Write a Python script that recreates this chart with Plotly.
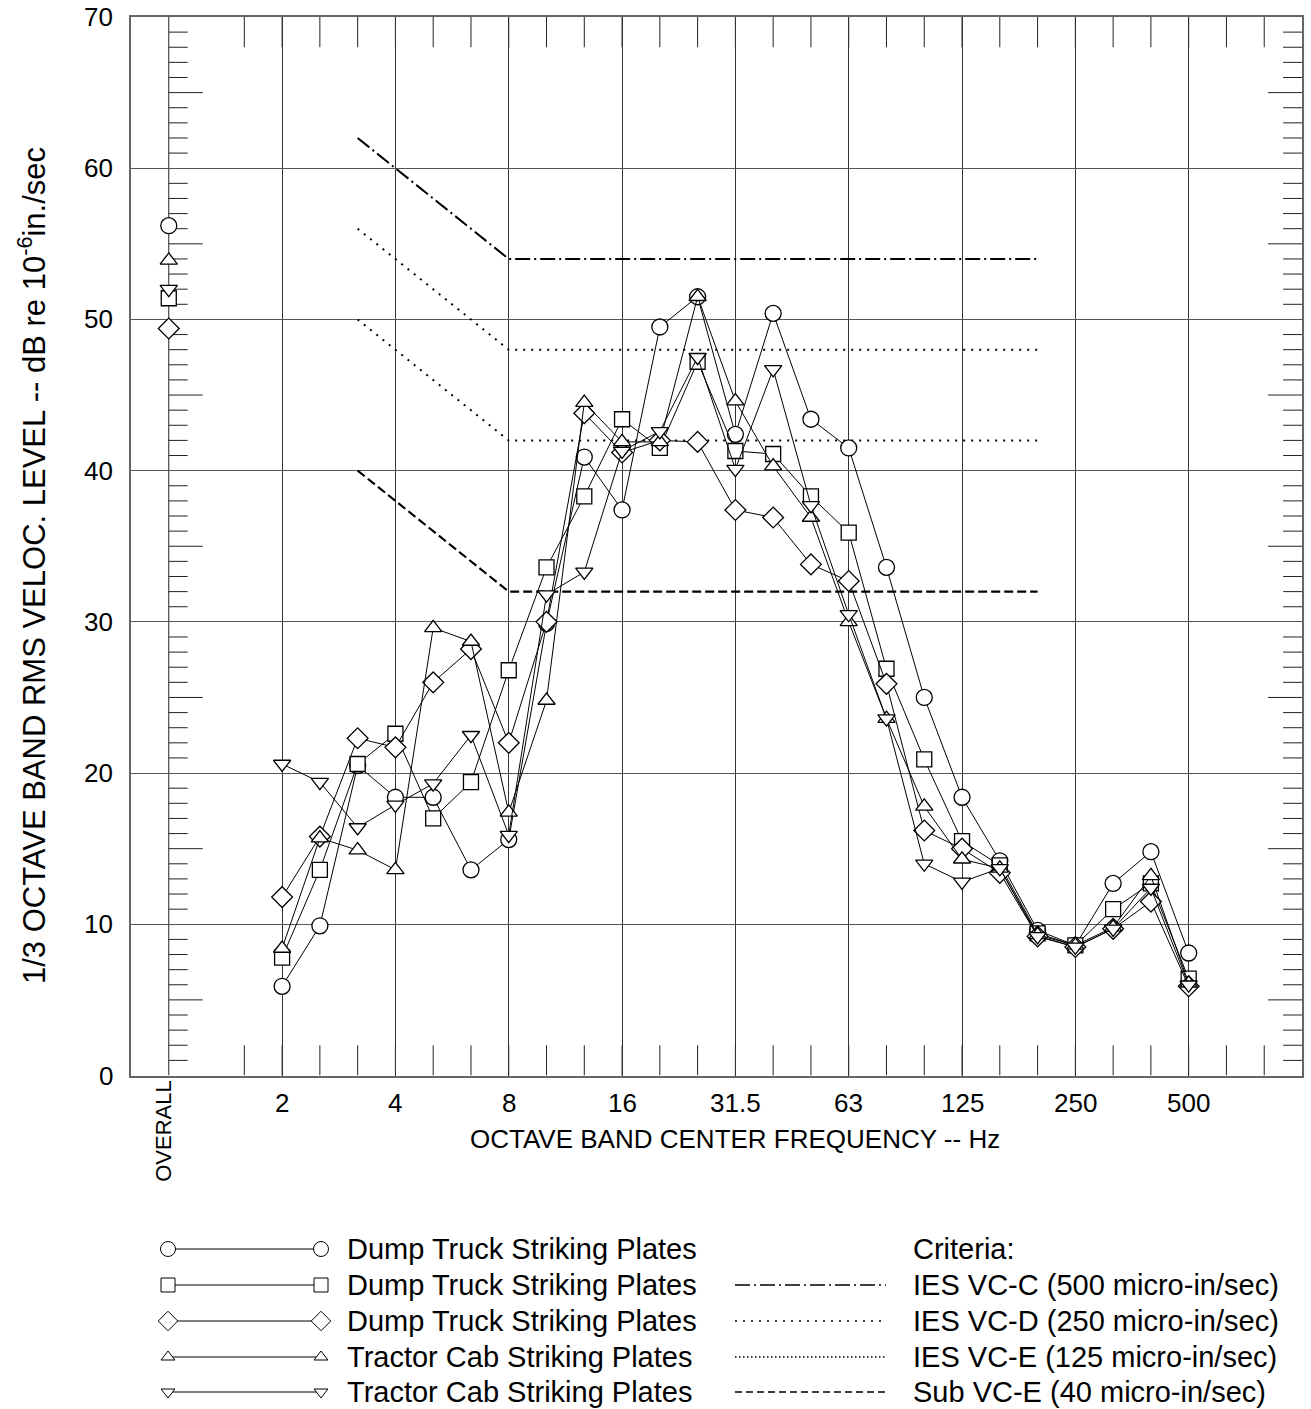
import plotly.graph_objects as go

# ---------------------------------------------------------------------------
# Data
# ---------------------------------------------------------------------------
# 1/3-octave band centre frequencies (Hz)
bands = ["2", "2.5", "3.15", "4", "5", "6.3", "8", "10", "12.5", "16", "20", "25",
         "31.5", "40", "50", "63", "80", "100", "125", "160", "200", "250", "315",
         "400", "500"]
octave_labels = ["2", "4", "8", "16", "31.5", "63", "125", "250", "500"]
y_tick_labels = [0, 10, 20, 30, 40, 50, 60, 70]

series_names = [
    "Dump Truck Striking Plates",
    "Dump Truck Striking Plates",
    "Dump Truck Striking Plates",
    "Tractor Cab Striking Plates",
    "Tractor Cab Striking Plates",
]
series_symbols = ["circle", "square", "diamond", "triangle-up", "triangle-down"]

# Overall levels, dB re 1e-6 in/sec
overall_levels = [56.2, 51.4, 49.4, 53.9, 52.0]

# Band levels, dB re 1e-6 in/sec (one value per entry in `bands`)
dump_truck_1 = [5.9, 9.9, 20.5, 18.4, 18.4, 13.6, 15.6, 29.9, 40.9, 37.4, 49.5, 51.5,
                42.4, 50.4, 43.4, 41.5, 33.6, 25.0, 18.4, 14.2, 9.6, 8.6, 12.7, 14.8, 8.1]
dump_truck_2 = [7.8, 13.6, 20.6, 22.6, 17.0, 19.4, 26.8, 33.6, 38.3, 43.4, 41.5, 47.2,
                41.3, 41.1, 38.3, 35.9, 26.9, 20.9, 15.5, 13.9, 9.4, 8.6, 11.0, 12.7, 6.4]
dump_truck_3 = [11.8, 15.8, 22.3, 21.7, 26.0, 28.2, 22.0, 30.0, 43.8, 41.2, 42.0, 41.9,
                37.4, 36.9, 33.8, 32.7, 25.9, 16.2, 15.0, 13.4, 9.2, 8.5, 9.7, 11.5, 5.9]
tractor_cab_1 = [8.4, 15.7, 14.9, 13.6, 29.6, 28.7, 17.4, 24.8, 44.5, 41.9, 41.9, 51.5,
                 44.6, 40.3, 36.9, 30.0, 23.6, 17.8, 14.3, 13.7, 9.3, 8.6, 9.8, 13.2, 6.1]
tractor_cab_2 = [20.6, 19.4, 16.4, 17.9, 19.3, 22.5, 15.9, 31.8, 33.3, 41.3, 42.6, 47.5,
                 40.1, 46.7, 37.7, 30.5, 23.6, 14.0, 12.8, 13.7, 9.2, 8.5, 9.7, 12.4, 6.0]
series_levels = [dump_truck_1, dump_truck_2, dump_truck_3, tractor_cab_1, tractor_cab_2]

# Vibration criteria curves (break points)
criteria_freqs = ["3.15", "8", "200"]
criteria_names = ["IES VC-C (500 micro-in/sec)", "IES VC-D (250 micro-in/sec)",
                  "IES VC-E (125 micro-in/sec)", "Sub VC-E (40 micro-in/sec)"]
vc_c = [62, 54, 54]
vc_d = [56, 48, 48]
vc_e = [50, 42, 42]
sub_vc_e = [40, 32, 32]
criteria_levels = [vc_c, vc_d, vc_e, sub_vc_e]

# ---------------------------------------------------------------------------
# Geometry / style
# ---------------------------------------------------------------------------
W, H = 1311, 1409
M_L, M_R, M_T, M_B = 131, 9, 17, 0
PLOT_BOTTOM_PX = 1075.5
FONT = "Liberation Sans, Arial, sans-serif"

OVERALL_X = 0          # slot for the overall level
FIRST_BAND_X = 3       # slot of the 2 Hz band
X_MIN, X_MAX = -1, 30  # axis range in band slots


def band_x(freq):
    return FIRST_BAND_X + bands.index(freq)


def py2paper(py):
    return (H - M_B - py) / (H - M_T - M_B)


def px2paper(px):
    return (px - M_L) / (W - M_L - M_R)


band_positions = [band_x(f) for f in bands]
octave_positions = [band_x(f) for f in octave_labels]

marker_sizes = {"circle": 16, "square": 15, "diamond": 16,
                "triangle-up": 15, "triangle-down": 15}
legend_marker_sizes = {"circle": 15, "square": 14, "diamond": 15,
                       "triangle-up": 12, "triangle-down": 12}
criteria_dash = ["15px,4px,2px,4px", "2px,6px", "2px,6px", "9px,4px"]
criteria_width = [2.0, 2.0, 2.0, 2.2]
legend_dash = ["15px,4px,2px,4px", "2px,6px", "1.5px,2.5px", "7px,4px"]

fig = go.Figure()

# Criteria curves
for name, lev, dash, wd in zip(criteria_names, criteria_levels, criteria_dash, criteria_width):
    fig.add_trace(go.Scatter(
        x=[band_x(f) for f in criteria_freqs], y=lev, mode="lines", name=name,
        line=dict(color="black", dash=dash, width=wd),
        showlegend=False, hoverinfo="skip"))

# Measured spectra and overall levels
for name, sym, lev, ov in zip(series_names, series_symbols, series_levels, overall_levels):
    mk = dict(symbol=sym, size=marker_sizes[sym], color="white",
              line=dict(color="black", width=1.3))
    fig.add_trace(go.Scatter(
        x=band_positions, y=lev, mode="lines+markers", name=name,
        line=dict(color="black", width=1), marker=mk, showlegend=False))
    fig.add_trace(go.Scatter(
        x=[OVERALL_X], y=[ov], mode="markers", name=name,
        marker=mk, showlegend=False))

# ---------------------------------------------------------------------------
# Tick marks (inside the frame)
# ---------------------------------------------------------------------------
shapes = []
tick_col = "#222"
# x ticks for every 1/3-octave slot, top and bottom
for s in range(2, X_MAX):
    for y0, y1 in ((0, 2), (68, 70)):
        shapes.append(dict(type="line", xref="x", yref="y", x0=s, x1=s, y0=y0, y1=y1,
                           line=dict(color=tick_col, width=1), layer="below"))
# y ticks on the overall line and on the right frame
for v in range(1, 70):
    if v % 10 == 0:
        continue
    ln = 0.9 if v % 5 == 0 else 0.5
    for x0, x1 in ((OVERALL_X, OVERALL_X + ln), (X_MAX - ln, X_MAX)):
        shapes.append(dict(type="line", xref="x", yref="y", x0=x0, x1=x1, y0=v, y1=v,
                           line=dict(color=tick_col, width=1), layer="below"))
# the overall column line
shapes.append(dict(type="line", xref="x", yref="y", x0=OVERALL_X, x1=OVERALL_X, y0=0, y1=70,
                   line=dict(color=tick_col, width=1), layer="below"))

# ---------------------------------------------------------------------------
# Labels
# ---------------------------------------------------------------------------
annotations = []
for lab, xp in zip(octave_labels, octave_positions):
    annotations.append(dict(x=xp, y=py2paper(1103), xref="x", yref="paper", text=lab,
                            showarrow=False, xanchor="center", yanchor="middle",
                            font=dict(family=FONT, size=26, color="black")))
annotations.append(dict(x=OVERALL_X, y=py2paper(1131), xref="x", yref="paper", text="OVERALL",
                        textangle=-90, showarrow=False, xshift=-6,
                        xanchor="center", yanchor="middle",
                        font=dict(family=FONT, size=22, color="black")))
for v in y_tick_labels:
    annotations.append(dict(x=px2paper(115), y=v, xref="paper", yref="y", text=str(v),
                            showarrow=False, xanchor="right", yanchor="middle",
                            font=dict(family=FONT, size=26, color="black")))
annotations.append(dict(x=15, y=py2paper(1139), xref="x", yref="paper",
                        text="OCTAVE BAND CENTER FREQUENCY -- Hz", showarrow=False,
                        xanchor="center", yanchor="middle",
                        font=dict(family=FONT, size=26, color="black")))
annotations.append(dict(x=px2paper(32), y=py2paper(566), xref="paper", yref="paper",
                        text="1/3 OCTAVE BAND RMS VELOC. LEVEL -- dB re 10<sup>-6</sup>in./sec",
                        textangle=-90, showarrow=False, xanchor="center", yanchor="middle",
                        font=dict(family=FONT, size=31, color="black")))

# ---------------------------------------------------------------------------
# Key (drawn on a hidden pixel-scaled axis pair under the chart)
# ---------------------------------------------------------------------------
KEY_TOP = 1215
row_y = [1249, 1285, 1321, 1357, 1392]
for i, (name, sym) in enumerate(zip(series_names, series_symbols)):
    fig.add_trace(go.Scatter(
        x=[168, 321], y=[row_y[i], row_y[i]], xaxis="x2", yaxis="y2",
        mode="lines+markers", showlegend=False, hoverinfo="skip",
        line=dict(color="black", width=1),
        marker=dict(symbol=sym, size=legend_marker_sizes[sym], color="white",
                    line=dict(color="black", width=1))))
    annotations.append(dict(x=345, y=row_y[i], xref="x2", yref="y2", text=name,
                            showarrow=False, xanchor="left", yanchor="middle",
                            font=dict(family=FONT, size=29, color="black")))
annotations.append(dict(x=911, y=row_y[0], xref="x2", yref="y2", text="Criteria:",
                        showarrow=False, xanchor="left", yanchor="middle",
                        font=dict(family=FONT, size=29, color="black")))
for i, (name, dash) in enumerate(zip(criteria_names, legend_dash)):
    fig.add_trace(go.Scatter(
        x=[735, 886], y=[row_y[i + 1], row_y[i + 1]], xaxis="x2", yaxis="y2",
        mode="lines", showlegend=False, hoverinfo="skip",
        line=dict(color="black", width=1.4, dash=dash)))
    annotations.append(dict(x=911, y=row_y[i + 1], xref="x2", yref="y2", text=name,
                            showarrow=False, xanchor="left", yanchor="middle",
                            font=dict(family=FONT, size=29, color="black")))

fig.update_layout(
    width=W, height=H,
    margin=dict(l=M_L, r=M_R, t=M_T, b=M_B, autoexpand=False),
    paper_bgcolor="white", plot_bgcolor="white",
    showlegend=False,
    xaxis=dict(range=[X_MIN, X_MAX], domain=[0, 1], tickvals=octave_positions,
               showticklabels=False, ticks="", showgrid=True, gridcolor="#333",
               gridwidth=1, zeroline=False, showline=True, linecolor="#666",
               linewidth=1.5, mirror=True, fixedrange=True),
    yaxis=dict(range=[0, 70], domain=[py2paper(PLOT_BOTTOM_PX), 1], dtick=10,
               showticklabels=False, ticks="", showgrid=True, gridcolor="#555",
               gridwidth=1, zeroline=False, showline=True, linecolor="#666",
               linewidth=1.5, mirror=True, fixedrange=True),
    xaxis2=dict(domain=[0, 1], range=[M_L, W - M_R], visible=False, anchor="y2",
                fixedrange=True),
    yaxis2=dict(domain=[0, py2paper(KEY_TOP)], range=[H - M_B, KEY_TOP], visible=False,
                anchor="x2", fixedrange=True),
    shapes=shapes,
    annotations=annotations,
)

fig.write_html("out.html")
